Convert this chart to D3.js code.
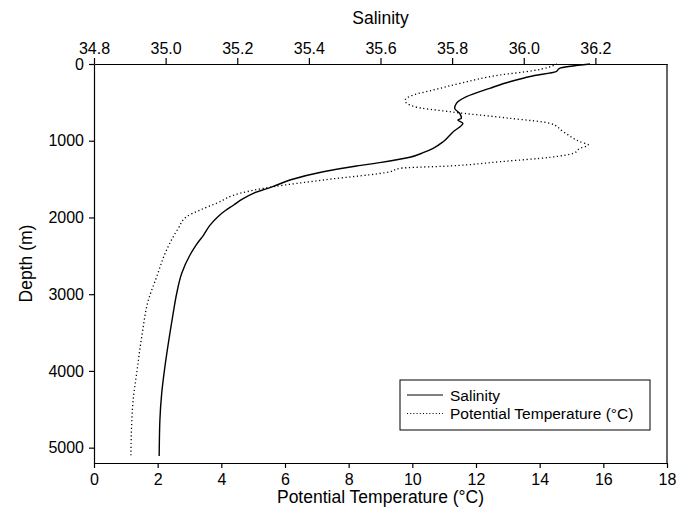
<!DOCTYPE html>
<html>
<head>
<meta charset="utf-8">
<script src="https://cdn.jsdelivr.net/npm/d3@7"></script>
<style>
  body { margin: 0; background: #fff; }
  text { font-family: "Liberation Sans", Arial, sans-serif; }
</style>
</head>
<body>
<div class="canvas"></div>
<script>
// salinity profile: depth (m) and salinity
const salDepth = [0, 56, 100, 156, 231, 317, 426, 512, 577, 642, 708, 730, 773, 882, 1013, 1099, 1156, 1216, 1286, 1329, 1404, 1512, 1599, 1685, 1760, 1838, 1910, 1990, 2100, 2229, 2360, 2489, 2728, 2988, 3250, 3506, 3945, 4292, 4640, 5110]
const salValue = [36.185, 36.10, 36.09, 36.025, 35.961, 35.905, 35.84, 35.812, 35.807, 35.821, 35.826, 35.816, 35.83, 35.803, 35.775, 35.747, 35.719, 35.682, 35.598, 35.533, 35.44, 35.347, 35.299, 35.245, 35.214, 35.19, 35.167, 35.146, 35.124, 35.106, 35.085, 35.068, 35.045, 35.031, 35.021, 35.012, 34.998, 34.989, 34.984, 34.982]

// potential temperature profile: depth (m) and temperature
const tempDepth = [0, 87, 143, 252, 339, 404, 478, 557, 622, 708, 773, 882, 1013, 1056, 1099, 1164, 1216, 1273, 1329, 1359, 1404, 1512, 1599, 1685, 1815, 1903, 1990, 2141, 2424, 2772, 3076, 3554, 4031, 4379, 4727, 5100]
const tempValue = [14.55, 13.79, 12.76, 11.5, 10.66, 10.03, 9.77, 10.08, 11.18, 13.07, 14.33, 14.74, 15.27, 15.53, 15.27, 15.06, 14.33, 12.76, 11.18, 9.61, 9.3, 7.2, 5.63, 4.59, 3.85, 3.33, 2.91, 2.65, 2.28, 1.97, 1.71, 1.5, 1.34, 1.23, 1.18, 1.16]

const tempTicks = [0, 2, 4, 6, 8, 10, 12, 14, 16, 18]
const salTicks = [34.8, 35.0, 35.2, 35.4, 35.6, 35.8, 36.0, 36.2]
const depthTicks = [0, 1000, 2000, 3000, 4000, 5000]

const box = { left: 94, right: 667, top: 64, bottom: 463 }

const svg = d3
  .select('.canvas')
  .append('svg')
  .attr('width', 686)
  .attr('height', 512)

const xTemp = d3.scaleLinear().domain([0, 18]).range([box.left, box.right])
const xSal = d3.scaleLinear().domain([34.8, 36.4]).range([box.left, box.right])
const y = d3.scaleLinear().domain([0, 5200]).range([box.top, box.bottom])

// axes
const styleAxis = (g) => {
  g.select('.domain').attr('stroke', '#000').attr('stroke-width', 1.2)
  g.selectAll('.tick line').attr('stroke', '#000').attr('stroke-width', 1.2)
  g.selectAll('.tick text').attr('fill', '#000').style('font-size', '16px')
}

svg
  .append('g')
  .attr('transform', `translate(0, ${box.bottom})`)
  .call(d3.axisBottom(xTemp).tickValues(tempTicks).tickSize(5).tickSizeOuter(0).tickPadding(6))
  .call(styleAxis)

svg
  .append('g')
  .attr('transform', `translate(0, ${box.top})`)
  .call(d3.axisTop(xSal).tickValues(salTicks).tickFormat(d3.format('.1f')).tickSize(6).tickSizeOuter(0).tickPadding(4))
  .call(styleAxis)

svg
  .append('g')
  .attr('transform', `translate(${box.left}, 0)`)
  .call(d3.axisLeft(y).tickValues(depthTicks).tickFormat(d3.format('d')).tickSize(5).tickSizeOuter(0).tickPadding(5))
  .call(styleAxis)

// right frame line
svg
  .append('line')
  .attr('x1', box.right)
  .attr('x2', box.right)
  .attr('y1', box.top)
  .attr('y2', box.bottom)
  .attr('stroke', '#000')
  .attr('stroke-width', 1.2)

// axis titles
svg.append('text').attr('x', (box.left + box.right) / 2).attr('y', 24)
  .attr('text-anchor', 'middle').style('font-size', '17.5px').text('Salinity')
svg.append('text').attr('x', (box.left + box.right) / 2).attr('y', 503)
  .attr('text-anchor', 'middle').style('font-size', '17.5px').text('Potential Temperature (°C)')
svg.append('text').attr('transform', `translate(32, ${(box.top + box.bottom) / 2}) rotate(-90)`)
  .attr('text-anchor', 'middle').style('font-size', '17.5px').text('Depth (m)')

// profile lines
const salLine = d3.line().curve(d3.curveMonotoneY).x((d, i) => xSal(d)).y((d, i) => y(salDepth[i]))
const tempLine = d3.line().curve(d3.curveMonotoneY).x((d, i) => xTemp(d)).y((d, i) => y(tempDepth[i]))

svg.append('path')
  .attr('d', salLine(salValue))
  .attr('fill', 'none')
  .attr('stroke', '#000')
  .attr('stroke-width', 1.4)

svg.append('path')
  .attr('d', tempLine(tempValue))
  .attr('fill', 'none')
  .attr('stroke', '#000')
  .attr('stroke-width', 1.3)
  .attr('stroke-dasharray', '1.2,2.6')

// legend
const legend = svg.append('g').attr('transform', 'translate(400, 380)')
legend.append('rect')
  .attr('width', 250).attr('height', 50)
  .attr('fill', '#fff').attr('stroke', '#000').attr('stroke-width', 1)

const legendItems = [
  { label: 'Salinity', dash: null },
  { label: 'Potential Temperature (°C)', dash: '1,2.2' },
]
legendItems.forEach((it, i) => {
  const yy = 15 + i * 18.5
  legend.append('line')
    .attr('x1', 7).attr('x2', 43).attr('y1', yy).attr('y2', yy)
    .attr('stroke', '#000').attr('stroke-width', 1.2)
    .attr('stroke-dasharray', it.dash)
  legend.append('text')
    .attr('x', 50).attr('y', yy + 5.5)
    .style('font-size', '15.5px')
    .text(it.label)
})
</script>
</body>
</html>
